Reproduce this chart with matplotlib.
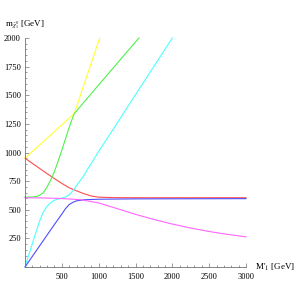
import matplotlib

matplotlib.use("Agg")
import matplotlib.pyplot as plt
from matplotlib.ticker import MultipleLocator

plt.rcParams["font.family"] = ["Liberation Serif", "DejaVu Serif"]
plt.rcParams["mathtext.fontset"] = "stix"

# neutralino masses vs M'_1 (GeV)
red_x = [0, 100, 200, 300, 400, 500, 600, 700, 800, 900, 1000, 1200, 1500, 3000]
red_y = [950, 905, 860, 815, 772, 730, 692, 665, 640, 620, 610, 606, 605, 605]

yellow_x = [0, 300, 669, 800, 1014]
yellow_y = [950, 1125, 1340, 1592, 2000]

green_x = [0, 100, 150, 200, 250, 300, 350, 400, 450, 500, 550, 600, 650, 669, 1000, 1250, 1547]
green_y = [610, 612, 615, 627, 650, 700, 760, 835, 925, 1020, 1120, 1220, 1310, 1340, 1590, 1778, 2000]

cyan_x = [0, 100, 200, 250, 300, 350, 400, 450, 500, 550, 600, 650, 700, 800, 900, 1000, 1250, 1500, 1750, 2000]
cyan_y = [0, 205, 405, 480, 530, 563, 583, 594, 602, 612, 630, 665, 710, 800, 905, 1010, 1255, 1505, 1752, 2000]

blue_x = [0, 100, 200, 300, 400, 500, 550, 600, 650, 700, 800, 1000, 1500, 3000]
blue_y = [0, 93, 186, 279, 372, 462, 510, 545, 565, 578, 587, 592, 595, 597]

magenta_x = [0, 250, 500, 750, 1000, 1250, 1500, 1750, 2000, 2250, 2500, 2750, 3000]
magenta_y = [605, 603, 598, 588, 560, 510, 460, 415, 375, 340, 310, 285, 263]

x_ticks = [500, 1000, 1500, 2000, 2500, 3000]
y_ticks = [250, 500, 750, 1000, 1250, 1500, 1750, 2000]

AXIS = "0.45"

fig = plt.figure(figsize=(3, 3), dpi=100)
ax = fig.add_axes([25 / 300, 33 / 300, 221 / 300, 229 / 300])

series = [
    (red_x, red_y, (1.0, 0.3, 0.3)),
    (yellow_x, yellow_y, (1.0, 1.0, 0.2)),
    (green_x, green_y, (0.3, 0.95, 0.3)),
    (cyan_x, cyan_y, (0.3, 1.0, 1.0)),
    (blue_x, blue_y, (0.3, 0.3, 1.0)),
    (magenta_x, magenta_y, (1.0, 0.4, 1.0)),
]
for xs, ys, c in series:
    ax.plot(xs, ys, color=c, lw=0.8, clip_on=False)

ax.set_xlim(0, 3000)
ax.set_ylim(0, 2000)
ax.set_xticks(x_ticks)
ax.set_yticks(y_ticks)
ax.xaxis.set_minor_locator(MultipleLocator(100))
ax.yaxis.set_minor_locator(MultipleLocator(50))

for side in ("top", "right"):
    ax.spines[side].set_visible(False)
for side in ("left", "bottom"):
    ax.spines[side].set_color(AXIS)
    ax.spines[side].set_linewidth(0.6)
ax.tick_params(which="both", direction="in", color=AXIS, width=0.5, labelsize=6)
ax.tick_params(axis="y", pad=3)
ax.tick_params(axis="x", pad=4)
ax.tick_params(which="major", length=3)
ax.tick_params(which="minor", length=1.5)

ax.text(-0.09, 1.03, r"m$_{\tilde{\chi}_1^0}$ [GeV]", transform=ax.transAxes,
        fontsize=6.5, ha="left", va="bottom")
ax.text(1.04, 0.0, r"M$'_1$ [GeV]", transform=ax.transAxes,
        fontsize=6.5, ha="left", va="center")

fig.savefig("out.png", dpi=100)
